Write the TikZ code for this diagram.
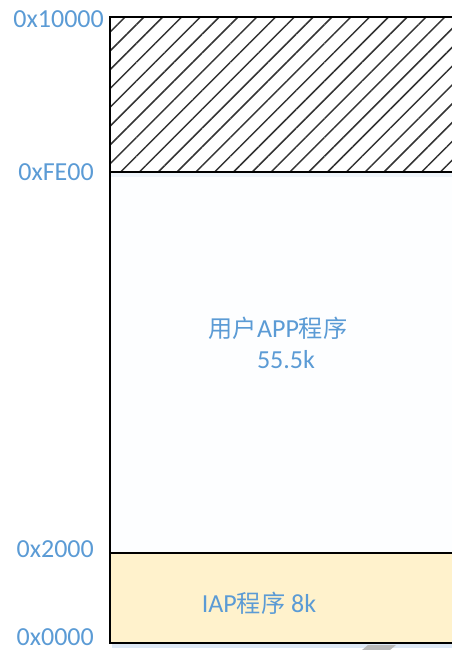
\documentclass[tikz,border=0pt]{standalone}
\usepackage{fontspec}
\setmainfont{Carlito}
\newfontfamily\cjk[Scale=0.93]{Noto Sans CJK SC}
\usetikzlibrary{patterns.meta}
\definecolor{txtblue}{HTML}{5B9BD5}
\definecolor{iapfill}{HTML}{FFF2CC}
\definecolor{appfill}{HTML}{FDFEFF}
\definecolor{shadowblue}{HTML}{DDE8F5}
\tikzset{
  addr/.style={anchor=east, text=txtblue, font=\fontsize{26}{28}\selectfont, inner sep=0pt},
  lbl/.style={text=txtblue, font=\fontsize{26}{28}\selectfont, inner sep=0pt},
  border/.style={draw=black, line width=1.3pt},
}
\begin{document}
\begin{tikzpicture}[x=1pt,y=-1pt]
\useasboundingbox (0,0) rectangle (452,650);
% shadow
\fill[shadowblue] (112,643) rectangle (452,648);
% regions
\fill[white] (110,17) rectangle (452,172);
\pattern[pattern={Lines[angle=45,distance=13.3pt,line width=1.5pt]}, pattern color=black!80] (110,17) rectangle (452,172);
\fill[appfill] (110,173) rectangle (452,553);
\fill[shadowblue!50] (110,173) rectangle (452,177);
\fill[iapfill] (110,553) rectangle (452,643);
% borders
\draw[border] (452,17) -- (110,17) -- (110,643) -- (452,643);
\draw[border] (110,172) -- (452,172);
\draw[border, line width=2pt] (110,553) -- (452,553);
% artifact
\fill[gray!55] (368,645) -- (396,645) -- (390,650) -- (362,650) -- cycle;
% address labels
\node[addr] (a10000) at (104,19) {0x10000};
\node[addr] (afe00) at (94,172) {0xFE00};
\node[addr] (a2000) at (94,549) {0x2000};
\node[addr] (a0000) at (94,637) {0x0000};
% region labels
\node[lbl] (app) at (278,328) {{\cjk 用户}APP{\cjk 程序}};
\node[lbl] (appsize) at (286,360) {55.5k};
\node[lbl] (iap) at (259,603) {IAP{\cjk 程序} 8k};
\end{tikzpicture}
\end{document}
